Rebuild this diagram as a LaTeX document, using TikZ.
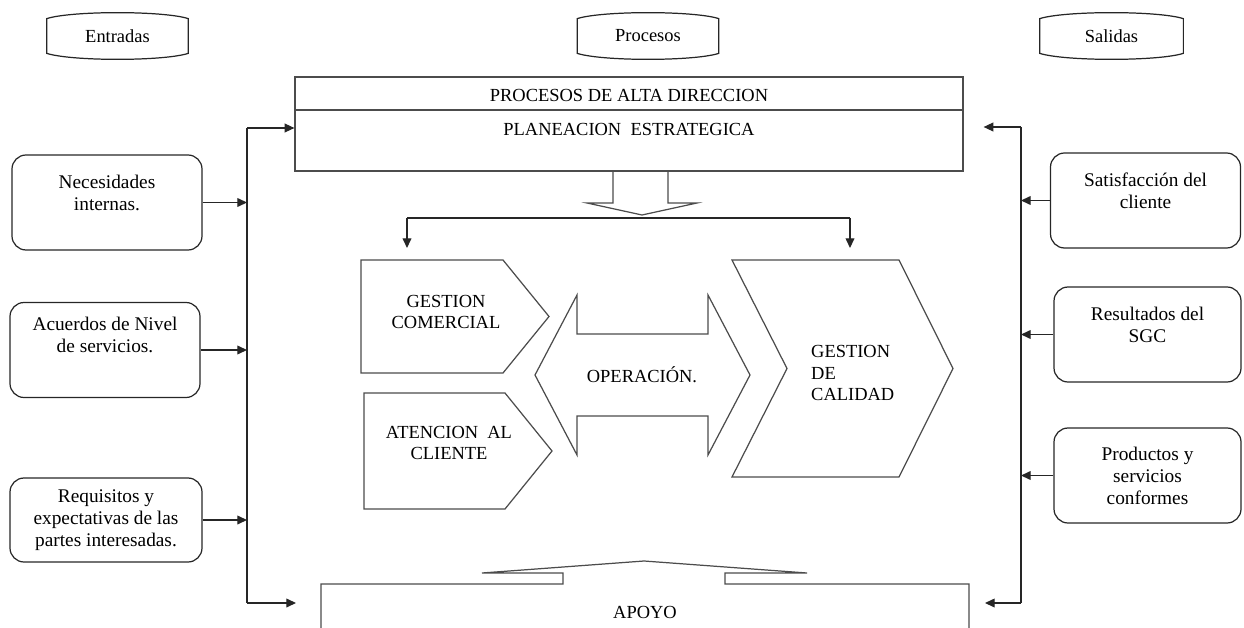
\documentclass[tikz,border=0pt]{standalone}
\usepackage{fontspec}
\setmainfont{Liberation Serif}
\usetikzlibrary{arrows.meta,calc}
\newdimen\pxu \pxu=0.02cm

\begin{document}
\begin{tikzpicture}[
        x=0.02cm, y=-0.02cm,
        font=\fontsize{10.5}{12.5}\selectfont,
        wire/.style={draw=black!85, line width=0.7pt},
        arrow_line/.style={wire, -{Triangle[length=5.5pt,width=5pt]}},
        block/.style={draw=black!70, line width=0.7pt},
        tag_box/.style={minimum width=141\pxu, minimum height=46\pxu, inner sep=0pt},
        side_box/.style={wire, rectangle, rounded corners=8pt, align=center, minimum width=190\pxu, minimum height=95\pxu, font=\fontsize{11}{12.5}\selectfont},
        text_high/.style={text depth=#1\pxu},
        block_text/.style={align=center}
    ]
        \useasboundingbox (0,0) rectangle (1244,628);

        % Column titles
        \node[tag_box] (entradas) at (117.5,36) {Entradas};
        \node[tag_box] (procesos) at (648,36) {Procesos};
        \node[tag_box, minimum width=143\pxu] (salidas) at (1111.5,36) {Salidas};
        \foreach \n in {entradas,procesos,salidas}
            \draw[wire] ($(\n.north west)+(0,6)$) .. controls ($(\n.north west)+(25,-2)$) and ($(\n.north east)+(-25,-2)$) .. ($(\n.north east)+(0,6)$)
                -- ($(\n.south east)+(0,-6)$) .. controls ($(\n.south east)+(-25,2)$) and ($(\n.south west)+(25,2)$) .. ($(\n.south west)+(0,-6)$) -- cycle;

        % Inputs
        \node[side_box, text_high=19] (necesidades) at (107,202.5) {Necesidades\\internas.};
        \node[side_box, text_high=30] (acuerdos) at (105,350) {Acuerdos de Nivel\\de servicios.};
        \node[side_box, minimum width=192\pxu, minimum height=84\pxu] (requisitos) at (106,520) {Requisitos y\\expectativas de las\\partes interesadas.};

        % Outputs
        \node[side_box, text_high=19] (satisfaccion) at (1145.5,200.5) {Satisfacción del\\cliente};
        \node[side_box, text_high=20, minimum width=187\pxu] (resultados) at (1147.5,334.5) {Resultados del\\SGC};
        \node[side_box, minimum width=187\pxu] (productos) at (1147.5,475.5) {Productos y\\servicios\\conformes};

        % Alta direccion
        \node[block, minimum width=668\pxu, minimum height=94\pxu] (alta) at (629,124) {};
        \draw[block] (alta.west |- 0,110) -- (alta.east |- 0,110);
        \node (alta_title) at (629,95) {PROCESOS DE ALTA DIRECCION};
        \node (planeacion) at (629,129) {PLANEACION\ \ ESTRATEGICA};
        \draw[block] (613,171) -- (613,203) -- (587,203) -- (642,215) -- (697,203) -- (668,203) -- (668,171);

        % Procesos operativos
        \draw[block] (361,260) -- (503,260) -- (549,316.5) -- (503,373) -- (361,373) -- cycle;
        \node[block_text] (comercial) at (446,312) {GESTION\\COMERCIAL};
        \draw[block] (364,393) -- (505,393) -- (552,451) -- (505,509) -- (364,509) -- cycle;
        \node[block_text] (atencion) at (449,443) {ATENCION\ \ AL\\CLIENTE};
        \draw[block] (535,375) -- (577,295) -- (577,334) -- (708,334) -- (708,295) -- (750,375) -- (708,455) -- (708,416) -- (577,416) -- (577,455) -- cycle;
        \node (operacion) at (642,375) {OPERACIÓN.};
        \draw[block] (732,260) -- (899,260) -- (953,368.5) -- (899,477) -- (732,477) -- (787,368.5) -- cycle;
        \node[align=left, anchor=west] (calidad) at (805,373) {GESTION\\DE\\CALIDAD};

        % Apoyo
        \coordinate (apoyo_nw) at (321,584);
        \coordinate (apoyo_ne) at (969,584);
        \draw[block] (321,632) -- (apoyo_nw) -- (563,584) -- (563,573) -- (482,573) -- (644,561) -- (807,573) -- (725,573) -- (725,584) -- (apoyo_ne) -- (969,632);
        \node (apoyo) at (645,612) {APOYO};

        % Distribucion hacia los procesos
        \coordinate (split_l) at (407,218);
        \coordinate (split_r) at (850,218);
        \draw[wire] (split_l) -- (split_r);
        \draw[arrow_line, shorten >=12\pxu] (split_l) -- (split_l |- 0,260);
        \draw[arrow_line, shorten >=12\pxu] (split_r) -- (split_r |- 0,260);

        % Bus de entradas
        \coordinate (bus_l_top) at (247,128);
        \coordinate (bus_l_bot) at (247,603);
        \draw[wire] (bus_l_top) -- (bus_l_bot);
        \draw[arrow_line] (bus_l_top) -- (bus_l_top -| alta.west);
        \draw[arrow_line, shorten >=25\pxu] (bus_l_bot) -- (bus_l_bot -| apoyo_nw);
        \draw[arrow_line] (necesidades.east) -- (necesidades.east -| bus_l_top);
        \draw[arrow_line] (acuerdos.east) -- (acuerdos.east -| bus_l_top);
        \draw[arrow_line] (requisitos.east) -- (requisitos.east -| bus_l_top);

        % Bus de salidas
        \coordinate (bus_r_top) at (1021,127);
        \coordinate (bus_r_bot) at (1021,603);
        \draw[wire] (bus_r_top) -- (bus_r_bot);
        \draw[arrow_line, shorten >=20\pxu] (bus_r_top) -- (bus_r_top -| alta.east);
        \draw[arrow_line, shorten >=16\pxu] (bus_r_bot) -- (bus_r_bot -| apoyo_ne);
        \draw[arrow_line] (satisfaccion.west) -- (satisfaccion.west -| bus_r_top);
        \draw[arrow_line] (resultados.west) -- (resultados.west -| bus_r_top);
        \draw[arrow_line] (productos.west) -- (productos.west -| bus_r_top);
    \end{tikzpicture}
\end{document}
